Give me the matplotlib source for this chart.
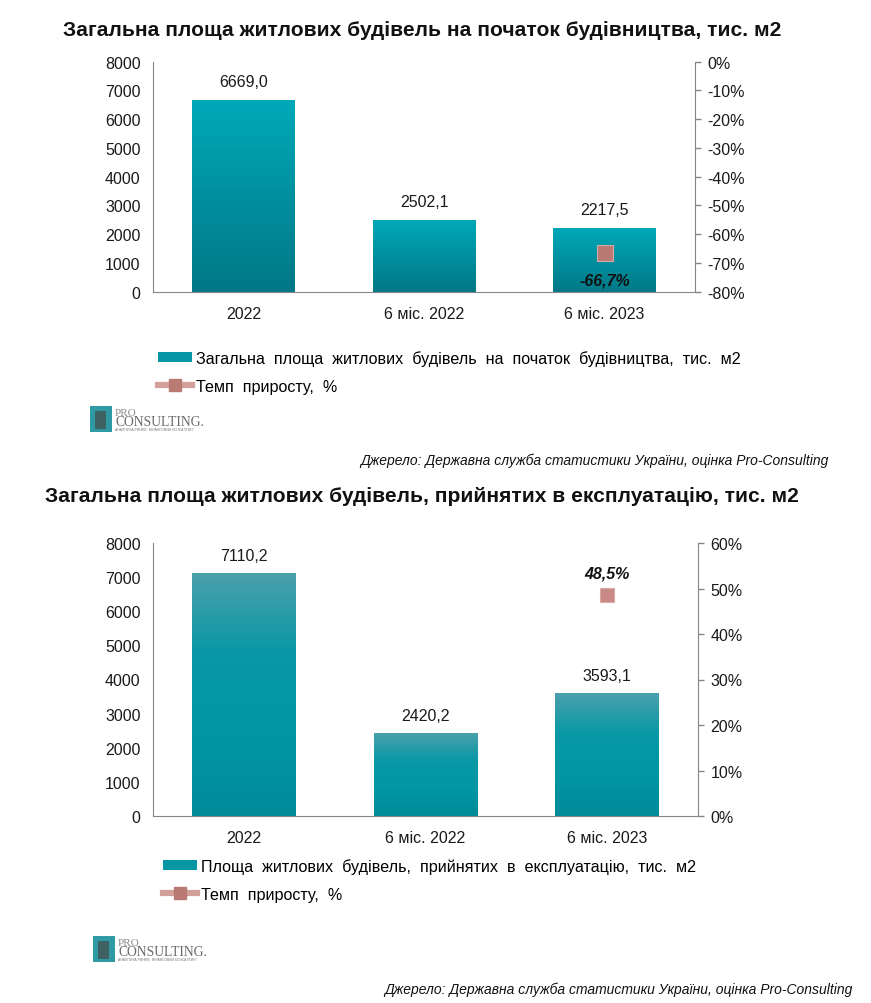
import numpy as np
import matplotlib
matplotlib.use("Agg")
import matplotlib.pyplot as plt
from matplotlib.colors import LinearSegmentedColormap
from matplotlib.lines import Line2D
from matplotlib.patches import Patch, Rectangle

plt.rcParams['font.family'] = ['Liberation Sans', 'DejaVu Sans']

save_path = "out.png"

categories = ["2022", "6 міс. 2022", "6 міс. 2023"]

# top chart: started construction
start_area = [6669.0, 2502.1, 2217.5]
start_growth = [None, None, -66.7]
start_title = "Загальна площа житлових будівель на початок будівництва, тис. м2"
start_legend = "Загальна  площа  житлових  будівель  на  початок  будівництва,  тис.  м2"

# bottom chart: put into operation
done_area = [7110.2, 2420.2, 3593.1]
done_growth = [None, None, 48.5]
done_title = "Загальна площа житлових будівель, прийнятих в експлуатацію, тис. м2"
done_legend = "Площа  житлових  будівель,  прийнятих  в  експлуатацію,  тис.  м2"

growth_legend = "Темп  приросту,  %"
source = "Джерело: Державна служба статистики України, оцінка Pro-Consulting"

W, H = 871, 1004
GRAY = "#868686"


def px_axes(fig, left, top, right, bottom):
    return fig.add_axes([left / W, 1 - bottom / H, (right - left) / W, (bottom - top) / H])


def fmt_num(v):
    return f"{v:.1f}".replace(".", ",")


def fill_gradient(ax, bars, colors):
    cmap = LinearSegmentedColormap.from_list("g", colors)
    grad = np.linspace(0, 1, 256).reshape(-1, 1)
    xl, yl = ax.get_xlim(), ax.get_ylim()
    for b in bars:
        x, y, w, h = b.get_x(), b.get_y(), b.get_width(), b.get_height()
        im = ax.imshow(grad, extent=(x, x + w, y, y + h), origin="upper",
                       cmap=cmap, aspect="auto", zorder=2, interpolation="bilinear")
        im.set_clip_path(b)
        b.set_facecolor("none")
    ax.set_xlim(xl)
    ax.set_ylim(yl)


def draw_chart(fig, box, area, growth, pct_lim, pct_step, bar_colors, mk_color, mk_size,
               pct_offset):
    ax = px_axes(fig, *box)
    x = np.arange(len(categories))
    bars = ax.bar(x, area, width=0.57, color=bar_colors[-1], zorder=2)
    ax.set_xlim(-0.5, 2.5)
    ax.set_ylim(0, 8000)
    ax.set_yticks(np.arange(0, 8001, 1000))
    ax.set_xticks(x)
    ax.set_xticklabels(categories)
    fill_gradient(ax, bars, bar_colors)
    for xi, v in zip(x, area):
        ax.annotate(fmt_num(v), (xi, v), xytext=(0, 13), textcoords="offset points",
                    ha="center", va="center", fontsize=11.5, color="#1a1a1a")
    ax.tick_params(axis="y", length=0, pad=9, labelsize=11.5, colors="#1a1a1a")
    ax.tick_params(axis="x", length=0, pad=10, labelsize=11.5, colors="#1a1a1a")
    for s in ["top", "right"]:
        ax.spines[s].set_visible(False)
    for s in ["left", "bottom"]:
        ax.spines[s].set_color(GRAY)

    ax2 = ax.twinx()
    ax2.set_ylim(*pct_lim)
    ticks = np.arange(pct_lim[0], pct_lim[1] + 1, pct_step)
    ax2.set_yticks(ticks)
    ax2.set_yticklabels([f"{int(t)}%" for t in ticks])
    ax2.tick_params(axis="y", length=4, width=1, color=GRAY, pad=5, labelsize=11.5,
                    labelcolor="#1a1a1a")
    for s in ["top", "left", "bottom"]:
        ax2.spines[s].set_visible(False)
    ax2.spines["right"].set_color(GRAY)
    gx = [xi for xi, g in zip(x, growth) if g is not None]
    gy = [g for g in growth if g is not None]
    ax2.plot(gx, gy, linestyle="none", marker="s", markersize=mk_size,
             markerfacecolor=mk_color, markeredgecolor="#d9aaa5", markeredgewidth=0.8,
             zorder=5)
    for xi, g in zip(gx, gy):
        ax2.annotate(fmt_num(g) + "%", (xi, g), xytext=(0, pct_offset),
                     textcoords="offset points", ha="center", va="center",
                     fontsize=11.5, fontweight="bold", fontstyle="italic", color="#111111")
    return ax


def draw_logo(fig, left, top):
    fig.patches.append(Rectangle((left / W, 1 - (top + 26) / H), 22 / W, 26 / H,
                                 transform=fig.transFigure, facecolor="#2f9aa4",
                                 edgecolor="none"))
    fig.patches.append(Rectangle(((left + 5) / W, 1 - (top + 23) / H), 11 / W, 18 / H,
                                 transform=fig.transFigure, facecolor="#4a3b38",
                                 edgecolor="none", alpha=0.6))
    fig.text((left + 25) / W, 1 - (top + 7) / H, "PRO", family="Liberation Serif",
             fontsize=8, color="#8a8a8a", va="center")
    fig.text((left + 25) / W, 1 - (top + 16) / H, "CONSULTING.", family="Liberation Serif",
             fontsize=9.8, color="#6a6a6a", va="center")
    fig.text((left + 25) / W, 1 - (top + 23) / H, "АНАЛІТИКА РИНКІВ. ФІНАНСОВИЙ КОНСАЛТИНГ",
             fontsize=2.4, color="#777777", va="center")


def draw_legend(fig, left, top, label):
    handles = [
        Patch(facecolor="#0796a4", edgecolor="none"),
        Line2D([0], [0], color="#d3a09b", linewidth=4.5, marker="s", markersize=8,
               markerfacecolor="#b97a74", markeredgecolor="#b97a74"),
    ]
    fig.legend(handles, [label, growth_legend], loc="upper left",
               bbox_to_anchor=(left / W, 1 - top / H), frameon=False,
               fontsize=11.6, handlelength=2.1, handleheight=0.6, handletextpad=0.25,
               labelspacing=0.8, borderpad=0, borderaxespad=0)


def main():
    fig = plt.figure(figsize=(W / 100, H / 100), dpi=100)

    fig.text(422 / W, 1 - 30 / H, start_title, ha="center", va="center",
             fontsize=15.1, fontweight="bold", color="#111111")
    draw_chart(fig, (153, 62.7, 695, 292.7), start_area, start_growth, (-80, 0), 10,
               ["#00a9b8", "#0090a0", "#007886"], "#b97a74", 12, -19)
    draw_legend(fig, 158, 351, start_legend)
    draw_logo(fig, 90, 407)
    fig.text(829 / W, 1 - 461 / H, source, ha="right", va="center", fontsize=10,
             fontstyle="italic", color="#111111")

    fig.text(422 / W, 1 - 497 / H, done_title, ha="center", va="center",
             fontsize=15.1, fontweight="bold", color="#111111")
    draw_chart(fig, (153, 544, 698, 817), done_area, done_growth, (0, 60), 10,
               ["#4aa0ab", "#0898a6", "#0096a4", "#008b99"], "#c98984", 9.5, 16)
    draw_legend(fig, 163, 859, done_legend)
    draw_logo(fig, 93, 937)
    fig.text(853 / W, 1 - 990 / H, source, ha="right", va="center", fontsize=10,
             fontstyle="italic", color="#111111")

    plt.savefig(save_path, dpi=100)


if __name__ == "__main__":
    main()
